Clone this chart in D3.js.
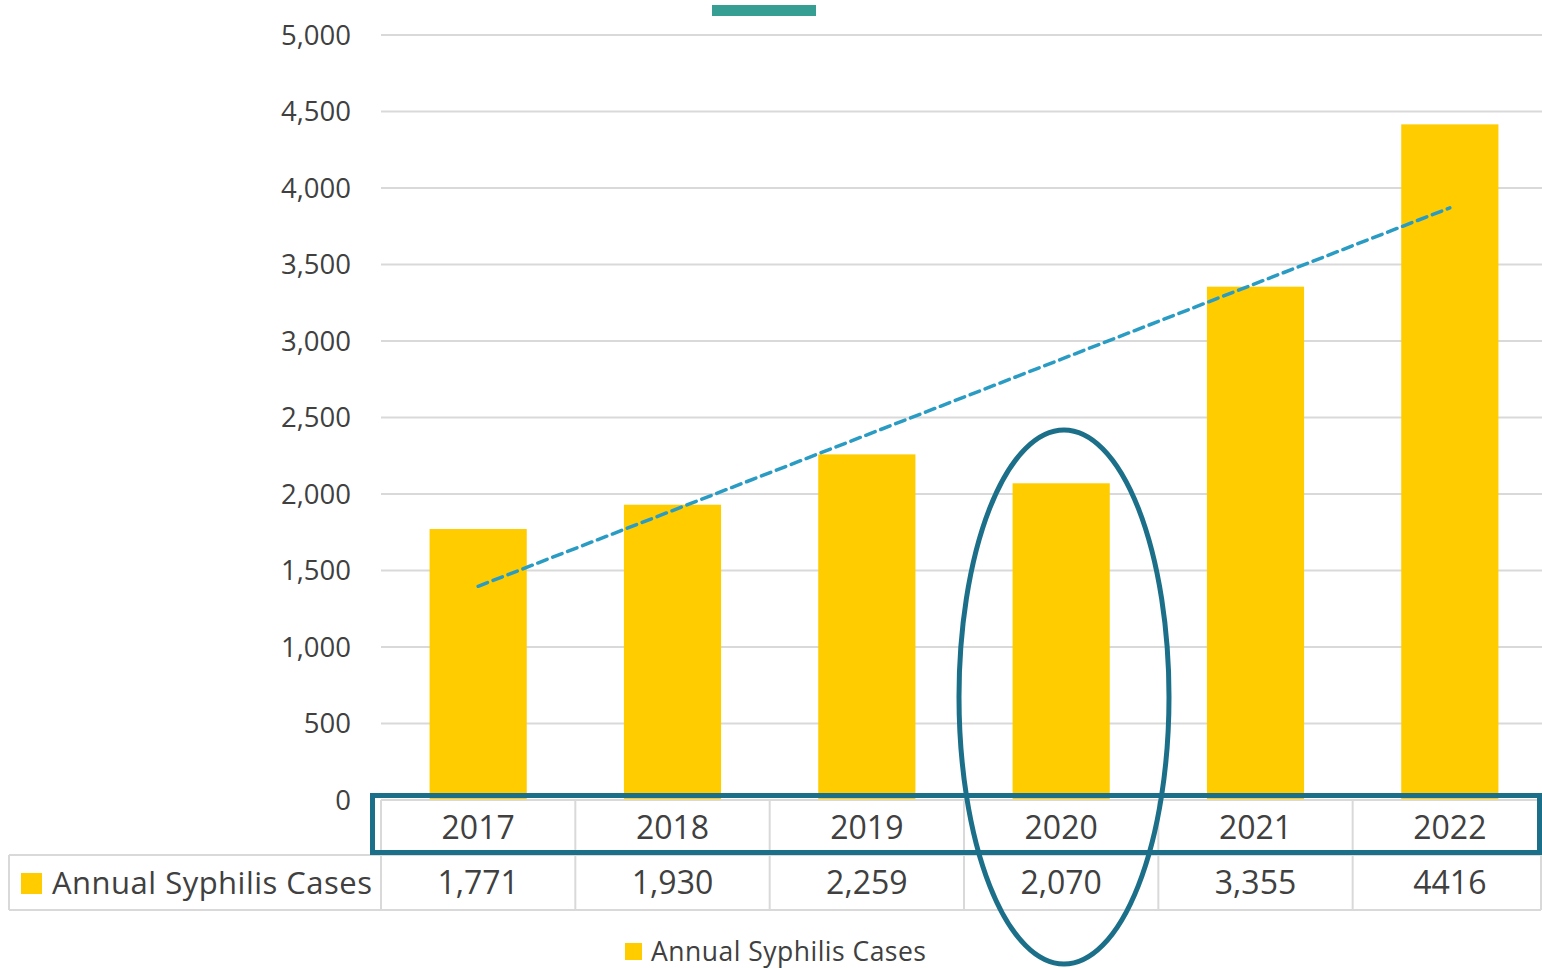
<!DOCTYPE html>
<html>
<head>
<meta charset="utf-8">
<script src="https://cdn.jsdelivr.net/npm/d3@7"></script>
<style>
  body { margin: 0; background: #fff; }
  svg { display: block; font-family: "Open Sans", sans-serif; }
</style>
</head>
<body>
<div id="chart"></div>
<script>
(function(d3) {
  'use strict';

  var years = ['2017', '2018', '2019', '2020', '2021', '2022'];
  var cases = [1771, 1930, 2259, 2070, 3355, 4416];
  var caseLabels = ['1,771', '1,930', '2,259', '2,070', '3,355', '4416'];
  var yTicks = [0, 500, 1000, 1500, 2000, 2500, 3000, 3500, 4000, 4500, 5000];
  var seriesName = 'Annual Syphilis Cases';

  var width = 1542, height = 968;
  var gold = '#ffcc00', grid = '#d9d9d9', textCol = '#404040', blue = '#1c6f89';

  var svg = d3.select('#chart').append('svg')
      .attr('width', width)
      .attr('height', height);

  var x = d3.scaleBand().domain(years).range([381, 1547]).paddingInner(0.5).paddingOuter(0.25);
  var y = d3.scaleLinear().domain([0, 5000]).range([800, 35]);
  var step = x.step();
  var left = 381;

  // gridlines
  svg.append('g').selectAll('line')
    .data(yTicks.slice(1))
    .enter().append('line')
      .attr('x1', left).attr('x2', width)
      .attr('y1', function(d) { return y(d); })
      .attr('y2', function(d) { return y(d); })
      .attr('stroke', grid).attr('stroke-width', 2);

  // y labels
  svg.append('g').selectAll('text')
    .data(yTicks)
    .enter().append('text')
      .attr('x', 351)
      .attr('y', function(d) { return y(d); })
      .attr('dy', '0.36em')
      .attr('text-anchor', 'end')
      .attr('font-size', 27.5)
      .attr('fill', textCol)
      .text(function(d) { return d3.format(',')(d); });

  // teal marker at top
  svg.append('rect')
    .attr('x', 712).attr('y', 5).attr('width', 104).attr('height', 11)
    .attr('fill', '#379e93');

  // bars
  svg.append('g').selectAll('rect')
    .data(cases)
    .enter().append('rect')
      .attr('x', function(d, i) { return x(years[i]); })
      .attr('y', function(d) { return y(d); })
      .attr('width', x.bandwidth())
      .attr('height', function(d) { return y(0) - y(d); })
      .attr('fill', gold);

  // linear trendline (least squares over index)
  var n = cases.length;
  var mx = d3.mean(d3.range(n)), my = d3.mean(cases);
  var sxy = d3.sum(cases, function(v, i) { return (i - mx) * (v - my); });
  var sxx = d3.sum(d3.range(n), function(i) { return (i - mx) * (i - mx); });
  var slope = sxy / sxx, icept = my - slope * mx;
  var cx = function(i) { return x(years[i]) + x.bandwidth() / 2; };
  svg.append('line')
    .attr('x1', cx(0)).attr('y1', y(icept))
    .attr('x2', cx(n - 1)).attr('y2', y(icept + slope * (n - 1)))
    .attr('stroke', '#2a9cc4').attr('stroke-width', 3.5)
    .attr('stroke-dasharray', '10,6').attr('stroke-linecap', 'round');

  // data table
  var tbl = svg.append('g').attr('stroke', grid).attr('stroke-width', 2).attr('fill', 'none');
  var rowTop = 800, rowMid = 855, rowBot = 910, tblRight = 1541;
  tbl.append('line').attr('x1', left).attr('x2', tblRight).attr('y1', rowTop).attr('y2', rowTop);
  tbl.append('line').attr('x1', 9).attr('x2', tblRight).attr('y1', rowMid).attr('y2', rowMid);
  tbl.append('line').attr('x1', 9).attr('x2', tblRight).attr('y1', rowBot).attr('y2', rowBot);
  tbl.append('line').attr('x1', 9).attr('x2', 9).attr('y1', rowMid).attr('y2', rowBot);
  tbl.append('line').attr('x1', tblRight).attr('x2', tblRight).attr('y1', rowTop).attr('y2', rowBot);
  tbl.selectAll('.vl')
    .data(years)
    .enter().append('line')
      .attr('x1', function(d, i) { return left + i * step; })
      .attr('x2', function(d, i) { return left + i * step; })
      .attr('y1', rowTop).attr('y2', rowBot);

  svg.append('g').selectAll('text')
    .data(years)
    .enter().append('text')
      .attr('x', function(d, i) { return cx(i); })
      .attr('y', (rowTop + rowMid) / 2)
      .attr('dy', '0.36em')
      .attr('text-anchor', 'middle')
      .attr('font-size', 32)
      .attr('fill', textCol)
      .text(function(d) { return d; });

  svg.append('g').selectAll('text')
    .data(caseLabels)
    .enter().append('text')
      .attr('x', function(d, i) { return cx(i); })
      .attr('y', (rowMid + rowBot) / 2)
      .attr('dy', '0.36em')
      .attr('text-anchor', 'middle')
      .attr('font-size', 32)
      .attr('fill', textCol)
      .text(function(d) { return d; });

  svg.append('rect')
    .attr('x', 21).attr('y', 873).attr('width', 21).attr('height', 21)
    .attr('fill', gold);
  svg.append('text')
    .attr('x', 52).attr('y', (rowMid + rowBot) / 2)
    .attr('dy', '0.36em')
    .attr('font-size', 31)
    .attr('fill', textCol)
    .attr('textLength', 320)
    .text(seriesName);

  // bottom legend
  svg.append('rect')
    .attr('x', 625).attr('y', 943).attr('width', 17).attr('height', 17)
    .attr('fill', gold);
  svg.append('text')
    .attr('x', 651).attr('y', 951)
    .attr('dy', '0.36em')
    .attr('font-size', 26.5)
    .attr('fill', textCol)
    .attr('textLength', 275)
    .text(seriesName);

  // highlight annotations
  svg.append('rect')
    .attr('x', 372.5).attr('y', 795.5).attr('width', 1167).attr('height', 57)
    .attr('fill', 'none').attr('stroke', blue).attr('stroke-width', 5);

  svg.append('ellipse')
    .attr('cx', 1064).attr('cy', 697).attr('rx', 105).attr('ry', 267)
    .attr('fill', 'none').attr('stroke', blue).attr('stroke-width', 5);
})(window.d3);
</script>
</body>
</html>
